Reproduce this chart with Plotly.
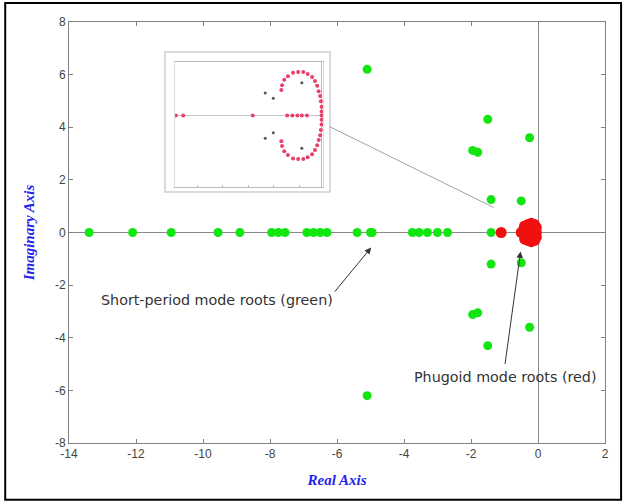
import plotly.graph_objects as go

# Short-period mode roots (green)
sp_re = [-13.4, -12.1, -10.95, -9.55, -8.9, -7.95, -7.75, -7.55, -6.9, -6.7, -6.5, -6.3,
         -5.4, -5.0, -4.95, -3.75, -3.55, -3.3, -3.0, -2.7, -1.4,
         -5.1, -5.1, -1.5, -1.5, -0.25, -0.25, -1.95, -1.8, -1.95, -1.8,
         -1.4, -1.4, -0.5, -0.5]
sp_im = [0, 0, 0, 0, 0, 0, 0, 0, 0, 0, 0, 0,
         0, 0, 0, 0, 0, 0, 0, 0, 0,
         6.2, -6.2, 4.3, -4.3, 3.6, -3.6, 3.12, 3.05, -3.12, -3.05,
         1.25, -1.2, 1.2, -1.15]

# Phugoid mode roots (red)
ph_re = [-1.1, -0.5, -0.42, -0.35, -0.25, -0.15, -0.05, -0.1, -0.1, -0.3, -0.3,
         -0.2, -0.2, -0.05, -0.05, -0.4, -0.4]
ph_im = [0, 0, 0.15, -0.15, 0, 0, 0, 0.3, -0.3, 0.3, -0.3,
         0.35, -0.35, 0.18, -0.18, 0.25, -0.25]

# Enlarged view of the phugoid region (inset)
zoom_re_axis = [-1.99, -1.89, -0.94, -0.47, -0.40, -0.33, -0.27, -0.20, 0.0]
zoom_re_arc = [-0.55, -0.54, -0.51, -0.46, -0.39, -0.32, -0.25, -0.19, -0.13, -0.09,
               -0.06, -0.04, -0.02, -0.01, 0.0, 0.0]
zoom_im_arc = [0.43, 0.51, 0.60, 0.66, 0.72, 0.73, 0.73, 0.70, 0.65, 0.58,
               0.50, 0.41, 0.33, 0.24, 0.15, 0.07]
zoom_re_dark = [-0.77, -0.66, -0.27]
zoom_im_dark = [0.38, 0.29, 0.55]

x_ticks = [-14, -12, -10, -8, -6, -4, -2, 0, 2]
y_ticks = [-8, -6, -4, -2, 0, 2, 4, 6, 8]

GREEN = "#11e611"
RED = "#f01010"

fig = go.Figure()

fig.add_trace(go.Scatter(
    x=sp_re, y=sp_im, mode="markers",
    marker=dict(color=GREEN, size=9, line=dict(width=0)),
    showlegend=False, hoverinfo="skip"))

fig.add_trace(go.Scatter(
    x=ph_re, y=ph_im, mode="markers",
    marker=dict(color=RED, size=11, line=dict(width=0)),
    showlegend=False, hoverinfo="skip"))

# inset traces
fig.add_trace(go.Scatter(
    x=zoom_re_axis, y=[0] * len(zoom_re_axis), mode="markers",
    marker=dict(color="#e8406a", size=4), xaxis="x2", yaxis="y2",
    showlegend=False, hoverinfo="skip"))
fig.add_trace(go.Scatter(
    x=zoom_re_arc + zoom_re_arc, y=zoom_im_arc + [-v for v in zoom_im_arc],
    mode="markers", marker=dict(color="#e8406a", size=4), xaxis="x2", yaxis="y2",
    showlegend=False, hoverinfo="skip"))
fig.add_trace(go.Scatter(
    x=zoom_re_dark + zoom_re_dark, y=zoom_im_dark + [-v for v in zoom_im_dark],
    mode="markers", marker=dict(color="#555555", size=3), xaxis="x2", yaxis="y2",
    showlegend=False, hoverinfo="skip"))

axis_common = dict(
    showline=True, linecolor="#808080", linewidth=1, mirror="ticks",
    ticks="inside", ticklen=4, tickcolor="#808080",
    showgrid=False, zeroline=True, zerolinecolor="#8a8a8a", zerolinewidth=1,
    tickfont=dict(family="Arial, Liberation Sans, sans-serif", size=12, color="#444444"),
)

fig.update_layout(
    width=626, height=504,
    margin=dict(l=69, r=21, t=22, b=61),
    paper_bgcolor="white", plot_bgcolor="white",
    xaxis=dict(range=[-14, 2], tickvals=x_ticks, ticktext=[str(v) for v in x_ticks],
               title=dict(text="<b><i>Real Axis</i></b>", standoff=14,
                          font=dict(family="Liberation Serif, Times New Roman, serif",
                                    size=15, color="#2222ee")),
               **axis_common),
    yaxis=dict(range=[-8, 8], tickvals=y_ticks, ticktext=[str(v) for v in y_ticks],
               title=dict(text="<b><i>Imaginary Axis</i></b>", standoff=16,
                          font=dict(family="Liberation Serif, Times New Roman, serif",
                                    size=15, color="#2222ee")),
               **axis_common),
    xaxis2=dict(domain=[0.198, 0.474], anchor="y2", range=[-2.0, 0.02],
                showline=True, linecolor="#bbbbbb", mirror=True, ticks="inside",
                ticklen=2, tickcolor="#bbbbbb", tickvals=[-1.7, -1.35, -1.0, -0.65, -0.3],
                showticklabels=False, showgrid=False,
                zeroline=True, zerolinecolor="#bbbbbb", zerolinewidth=1),
    yaxis2=dict(domain=[0.608, 0.905], anchor="x2", range=[-1.2, 0.9],
                showline=True, linecolor="#dddddd", mirror=True, ticks="",
                showticklabels=False, showgrid=False,
                zeroline=True, zerolinecolor="#c8c8c8", zerolinewidth=1),
)

shapes = [
    # outer black frame
    dict(type="rect", xref="paper", yref="paper", x0=-0.119, x1=1.030, y0=-0.135, y1=1.045,
         line=dict(color="black", width=2), fillcolor="rgba(0,0,0,0)", layer="above"),
    # inset frame
    dict(type="rect", xref="paper", yref="paper", x0=0.179, x1=0.487, y0=0.596, y1=0.929,
         line=dict(color="#cfcfcf", width=1.5), fillcolor="rgba(0,0,0,0)"),
    # connector from inset to the phugoid cluster
    dict(type="line", xref="x", yref="y", x0=-6.23, y0=4.03, x1=-1.32, y1=0.95,
         line=dict(color="#9aa4b0", width=1)),
]
fig.update_layout(shapes=shapes)

txt_font = dict(family="DejaVu Sans, Verdana, sans-serif", size=14.3, color="#333333")
fig.add_annotation(x=-4.98, y=-0.57, ax=-6.1, ay=-2.3, axref="x", ayref="y",
                   xref="x", yref="y", text="", showarrow=True,
                   arrowhead=2, arrowsize=1.3, arrowwidth=1, arrowcolor="#333333")
fig.add_annotation(x=-6.05, y=-2.55, xref="x", yref="y", xanchor="right",
                   text="Short-period mode roots (green)", showarrow=False, font=txt_font)
fig.add_annotation(x=-0.52, y=-0.72, ax=-0.99, ay=-5.05, axref="x", ayref="y",
                   xref="x", yref="y", text="", showarrow=True,
                   arrowhead=2, arrowsize=1.3, arrowwidth=1, arrowcolor="#333333")
fig.add_annotation(x=-3.75, y=-5.5, xref="x", yref="y", xanchor="left",
                   text="Phugoid mode roots (red)", showarrow=False, font=txt_font)

fig.write_html("out.html")
